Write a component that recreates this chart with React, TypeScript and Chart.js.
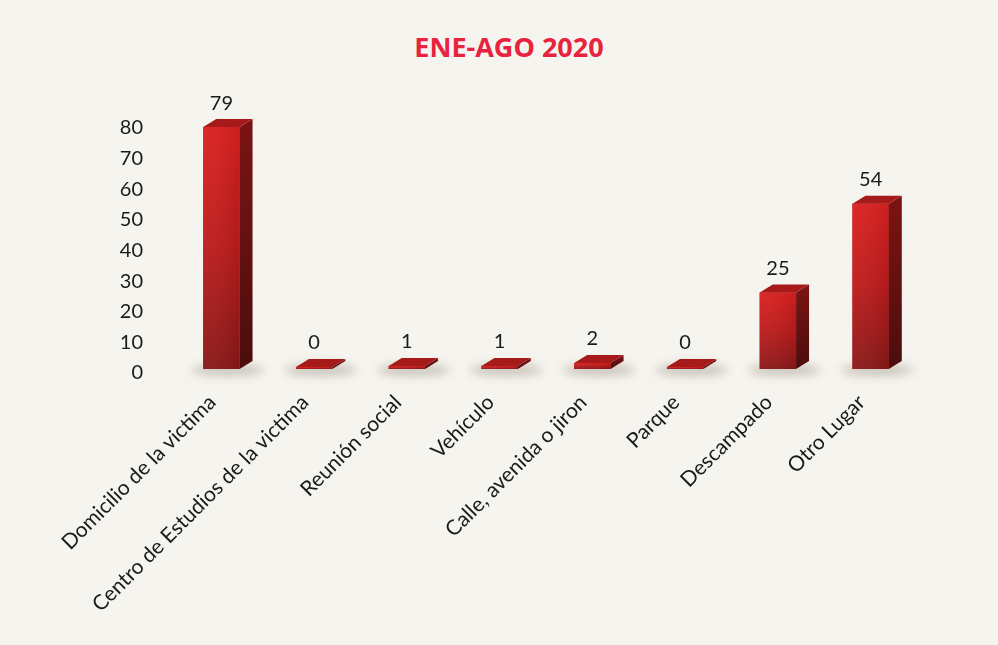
import React, { useEffect, useRef } from "react";
import { Chart, registerables } from "chart.js";

Chart.register(...registerables);

const chartTitle = "ENE-AGO 2020";
const categories = [
  "Domicilio de la victima",
  "Centro de Estudios de la victima",
  "Reunión social",
  "Vehículo",
  "Calle, avenida o jiron",
  "Parque",
  "Descampado",
  "Otro Lugar",
];
const values = [79, 0, 1, 1, 2, 0, 25, 54];
const yMin = 0;
const yMax = 80;
const yStep = 10;

const DX = 13;
const DY = 8;

const bar3d = {
  id: "bar3d",
  beforeDatasetsDraw(chart: any) {
    const ctx = chart.ctx as CanvasRenderingContext2D;
    const meta = chart.getDatasetMeta(0);
    ctx.save();
    ctx.filter = "blur(5px)";
    meta.data.forEach((el: any) => {
      const { x, base, width } = el.getProps(["x", "base", "width"], true);
      ctx.fillStyle = "rgba(120,108,95,0.34)";
      ctx.beginPath();
      ctx.ellipse(x + DX / 2, base + 1, width * 1.0, 6, 0, 0, Math.PI * 2);
      ctx.fill();
    });
    ctx.restore();
  },
  afterDatasetsDraw(chart: any) {
    const ctx = chart.ctx as CanvasRenderingContext2D;
    const meta = chart.getDatasetMeta(0);
    ctx.save();
    meta.data.forEach((el: any, i: number) => {
      const { x, y, base, width } = el.getProps(["x", "y", "base", "width"], true);
      const l = x - width / 2;
      const r = x + width / 2;
      const top = Math.min(y, base - 2);
      // front face
      const g = ctx.createLinearGradient(0, top, 0, base);
      g.addColorStop(0, "#dc2020");
      g.addColorStop(0.5, "#bd1c1c");
      g.addColorStop(1, "#8a1818");
      ctx.fillStyle = g;
      ctx.fillRect(l, top, width, base - top);
      const gh = ctx.createLinearGradient(l, 0, r, 0);
      gh.addColorStop(0, "rgba(255,255,255,0.04)");
      gh.addColorStop(1, "rgba(0,0,0,0.08)");
      ctx.fillStyle = gh;
      ctx.fillRect(l, top, width, base - top);
      // side face
      const gs = ctx.createLinearGradient(0, top - DY, 0, base);
      gs.addColorStop(0, "#7c1414");
      gs.addColorStop(1, "#4c0d0d");
      ctx.fillStyle = gs;
      ctx.beginPath();
      ctx.moveTo(r, top);
      ctx.lineTo(r + DX, top - DY);
      ctx.lineTo(r + DX, base - DY);
      ctx.lineTo(r, base);
      ctx.closePath();
      ctx.fill();
      // top face
      ctx.fillStyle = "#a61a1a";
      ctx.beginPath();
      ctx.moveTo(l, top);
      ctx.lineTo(l + DX, top - DY);
      ctx.lineTo(r + DX, top - DY);
      ctx.lineTo(r, top);
      ctx.closePath();
      ctx.fill();
      // data label
      ctx.fillStyle = "#1a1a1a";
      ctx.font = "20px Lato";
      ctx.textAlign = "center";
      ctx.textBaseline = "bottom";
      ctx.fillText(String(values[i]), x, top - 14);
    });
    ctx.restore();
  },
};

export default function App() {
  const ref = useRef<HTMLCanvasElement>(null);
  useEffect(() => {
    if (!ref.current) return;
    const chart = new Chart(ref.current, {
      type: "bar",
      data: {
        labels: categories,
        datasets: [
          {
            data: values,
            backgroundColor: "#b81c1c",
            barPercentage: 0.8,
            categoryPercentage: 0.49,
          },
        ],
      },
      options: {
        animation: false,
        responsive: false,
        devicePixelRatio: 1,
        layout: { padding: { left: 115, right: 81, top: 124, bottom: 0 } },
        plugins: {
          legend: { display: false },
          title: { display: false },
          tooltip: { enabled: false },
        },
        scales: {
          x: {
            grid: { display: false, drawTicks: false },
            border: { display: false },
            ticks: {
              autoSkip: false,
              minRotation: 45,
              maxRotation: 45,
              padding: 21,
              labelOffset: -9,
              color: "#1a1a1a",
              font: { family: "Lato", size: 21 },
            },
            afterFit: (s: any) => {
              s.height = 645 - 369;
            },
          },
          y: {
            min: yMin,
            max: yMax,
            grid: { display: false, drawTicks: false },
            border: { display: false },
            ticks: {
              stepSize: yStep,
              padding: 32,
              labelOffset: 4,
              color: "#1a1a1a",
              font: { family: "Lato", size: 20 },
            },
            afterFit: (s: any) => {
              s.width = 60;
            },
          },
        },
      },
      plugins: [bar3d],
    });
    return () => chart.destroy();
  }, []);

  return (
    <div
      style={{
        position: "fixed",
        left: 0,
        top: 0,
        width: 998,
        height: 645,
        background: "#f5f4ee",
        overflow: "hidden",
      }}
    >
      <div
        style={{
          position: "absolute",
          left: 359,
          width: 300,
          top: 30,
          textAlign: "center",
          fontFamily: "'Open Sans'",
          fontWeight: 700,
          fontSize: 27,
          lineHeight: "34px",
          color: "#e8233f",
        }}
      >
        {chartTitle}
      </div>
      <canvas
        ref={ref}
        width={998}
        height={645}
        style={{ position: "absolute", left: 0, top: 0, width: 998, height: 645 }}
      />
    </div>
  );
}
